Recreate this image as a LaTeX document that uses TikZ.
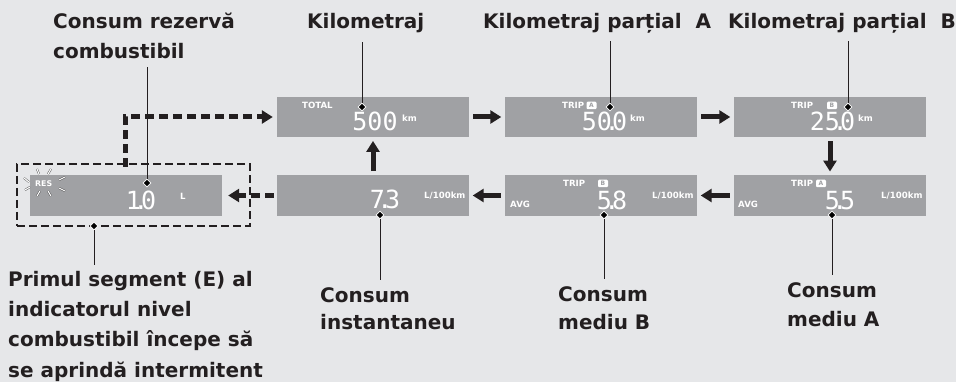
\documentclass[tikz,border=0pt]{standalone}
\usepackage{fontspec}
\setmainfont{DejaVu Sans}
\newfontfamily\segfont{DejaVu Sans Mono}
\usetikzlibrary{arrows.meta,shapes.geometric}
\definecolor{bgcol}{HTML}{E6E7E9}
\definecolor{pancol}{HTML}{A0A1A4}
\definecolor{inkcol}{HTML}{231F20}
\newcommand{\dpt}{\kern-7.5pt.\kern-7.5pt}
\tikzset{
  panel/.style={fill=pancol, minimum width=192pt, minimum height=40.5pt, inner sep=0},
  lcd/.style={text=white, font=\fontsize{8.6}{9}\selectfont\bfseries, inner sep=0, anchor=base west},
  num/.style={text=white, font=\segfont\fontsize{25}{25}\selectfont, inner sep=0, anchor=base},
  badge/.style={fill=white, rounded corners=1.2pt, inner sep=0, minimum width=10pt, minimum height=7.5pt,
    text=pancol, font=\fontsize{6}{6}\selectfont\bfseries},
  lbl/.style={font=\fontsize{20}{30}\selectfont\bfseries, align=left, inner sep=0, text=inkcol, anchor=base west},
  dia/.style={diamond, fill=black, draw=white, line width=0.8pt, inner sep=0, minimum size=8pt},
  lead/.style={draw=inkcol, line width=1pt},
  bigarrow/.style={draw=inkcol, line width=5pt, shorten <=4pt, shorten >=3.5pt,
    -{Triangle[length=11pt,width=13pt]}},
  dasharrow/.style={draw=inkcol, line width=5pt, dash pattern=on 9pt off 5pt, shorten <=3pt, shorten >=4pt,
    -{Triangle[length=11pt,width=13pt]}},
  flash/.style={draw=gray!55!black, line width=0.4pt, double=white, double distance=1.1pt}
}
\begin{document}
\begin{tikzpicture}[x=1pt, y=-1pt]
\useasboundingbox (0,0) rectangle (956,382);
\fill[bgcol] (0,0) rectangle (956,382);
\node[draw=inkcol, line width=1.2pt, dash pattern=on 8pt off 4pt, minimum width=233pt, minimum height=62pt, inner sep=0] (box0) at (133.5,195){};
\node[panel] (dsp0) at (126,195.5){};
\node[panel] (dsp1) at (373,195.5){};
\node[panel] (dsp2) at (601,195.5){};
\node[panel] (dsp3) at (830,195.5){};
\node[panel] (dsp4) at (373,117){};
\node[panel] (dsp5) at (601,117){};
\node[panel] (dsp6) at (830,117){};
\node[lcd, font=\fontsize{7.8}{8}\selectfont\bfseries] (txt0) at (35,187){RES};
\foreach \a/\b/\c/\d in {37/169/39/174, 51/169/48/174, 24/178/29/182, 65/177/59/180,
  25/190/30/187, 59/188/65/191, 37/196/40/191, 48/191/51/196}
  \draw[flash] (\a,\b) -- (\c,\d);
\node[num] (num0) at (141,210){1\dpt0};
\node[lcd] (txt1) at (180,200){L};
\node[num] (num1) at (385,209){7\dpt3};
\node[lcd] (txt2) at (424,199){L/100km};
\node[lcd] (txt3) at (563,187){TRIP};
\node[badge] (bdg0) at (603,183.5){B};
\node[lcd] (txt4) at (510,208){AVG};
\node[num] (num2) at (612,210){5\dpt8};
\node[lcd] (txt5) at (652,199){L/100km};
\node[lcd] (txt6) at (791,187){TRIP};
\node[badge] (bdg1) at (821,183.5){A};
\node[lcd] (txt7) at (738,208){AVG};
\node[num] (num3) at (840,210){5\dpt5};
\node[lcd] (txt8) at (881,199){L/100km};
\node[lcd] (txt9) at (302,109){TOTAL};
\node[num] (num4) at (375,131){500};
\node[lcd] (txt10) at (402,122){km};
\node[lcd] (txt11) at (562,109){TRIP};
\node[badge] (bdg2) at (591.5,105.5){A};
\node[num] (num5) at (604.5,131){50\dpt0};
\node[lcd] (txt12) at (630,122){km};
\node[lcd] (txt13) at (791,109){TRIP};
\node[badge] (bdg3) at (832,105.5){B};
\node[num] (num6) at (832.5,131){25\dpt0};
\node[lcd] (txt14) at (858,122){km};
\draw[bigarrow] (dsp4) -- (dsp5);
\draw[bigarrow] (dsp5) -- (dsp6);
\draw[bigarrow] (dsp6) -- (dsp3);
\draw[bigarrow] (dsp3) -- (dsp2);
\draw[bigarrow] (dsp2) -- (dsp1);
\draw[bigarrow] (dsp1) -- (dsp4);
\draw[dasharrow, shorten >=6pt] (dsp1) -- (dsp0);
\coordinate (up0) at (125,170);
\draw[dasharrow] (up0) |- (dsp4);
\node[lbl] (lbl0) at (53,59){Consum rezervă\\combustibil};
\node[lbl] (lbl1) at (307,29){Kilometraj};
\node[lbl] (lbl2) at (483,29){Kilometraj parțial~ A};
\node[lbl] (lbl3) at (728,29){Kilometraj parțial~ B};
\node[lbl, font=\fontsize{20}{27}\selectfont\bfseries] (lbl4) at (320,329){Consum\\instantaneu};
\node[lbl, font=\fontsize{20}{28}\selectfont\bfseries] (lbl5) at (558,329){Consum\\mediu B};
\node[lbl, font=\fontsize{20}{29}\selectfont\bfseries] (lbl6) at (787,326){Consum\\mediu A};
\node[lbl, font=\fontsize{20}{30.3}\selectfont\bfseries] (lbl7) at (8,377){Primul segment (E) al\\indicatorul nivel\\combustibil începe să\\se aprindă intermitent};
\node[dia] (dia0) at (147,183){};
\node[dia] (dia1) at (362,107){};
\node[dia] (dia2) at (610,107){};
\node[dia] (dia3) at (848,107){};
\node[dia] (dia4) at (380,215){};
\node[dia] (dia5) at (604,215){};
\node[dia] (dia6) at (832,215){};
\node[dia] (dia7) at (94,226){};
\draw[lead, shorten >=8pt] (dia0) -- (dia0 |- lbl0.south);
\draw[lead, shorten >=8pt] (dia1) -- (dia1 |- lbl1.south);
\draw[lead, shorten >=7pt] (dia2) -- (dia2 |- lbl2.south);
\draw[lead, shorten >=7pt] (dia3) -- (dia3 |- lbl3.south);
\draw[lead, shorten >=7pt] (dia4) -- (dia4 |- lbl4.north);
\draw[lead, shorten >=7pt] (dia5) -- (dia5 |- lbl5.north);
\draw[lead, shorten >=7pt] (dia6) -- (dia6 |- lbl6.north);
\draw[lead, shorten >=6pt] (dia7) -- (dia7 |- lbl7.north);
\end{tikzpicture}
\end{document}
